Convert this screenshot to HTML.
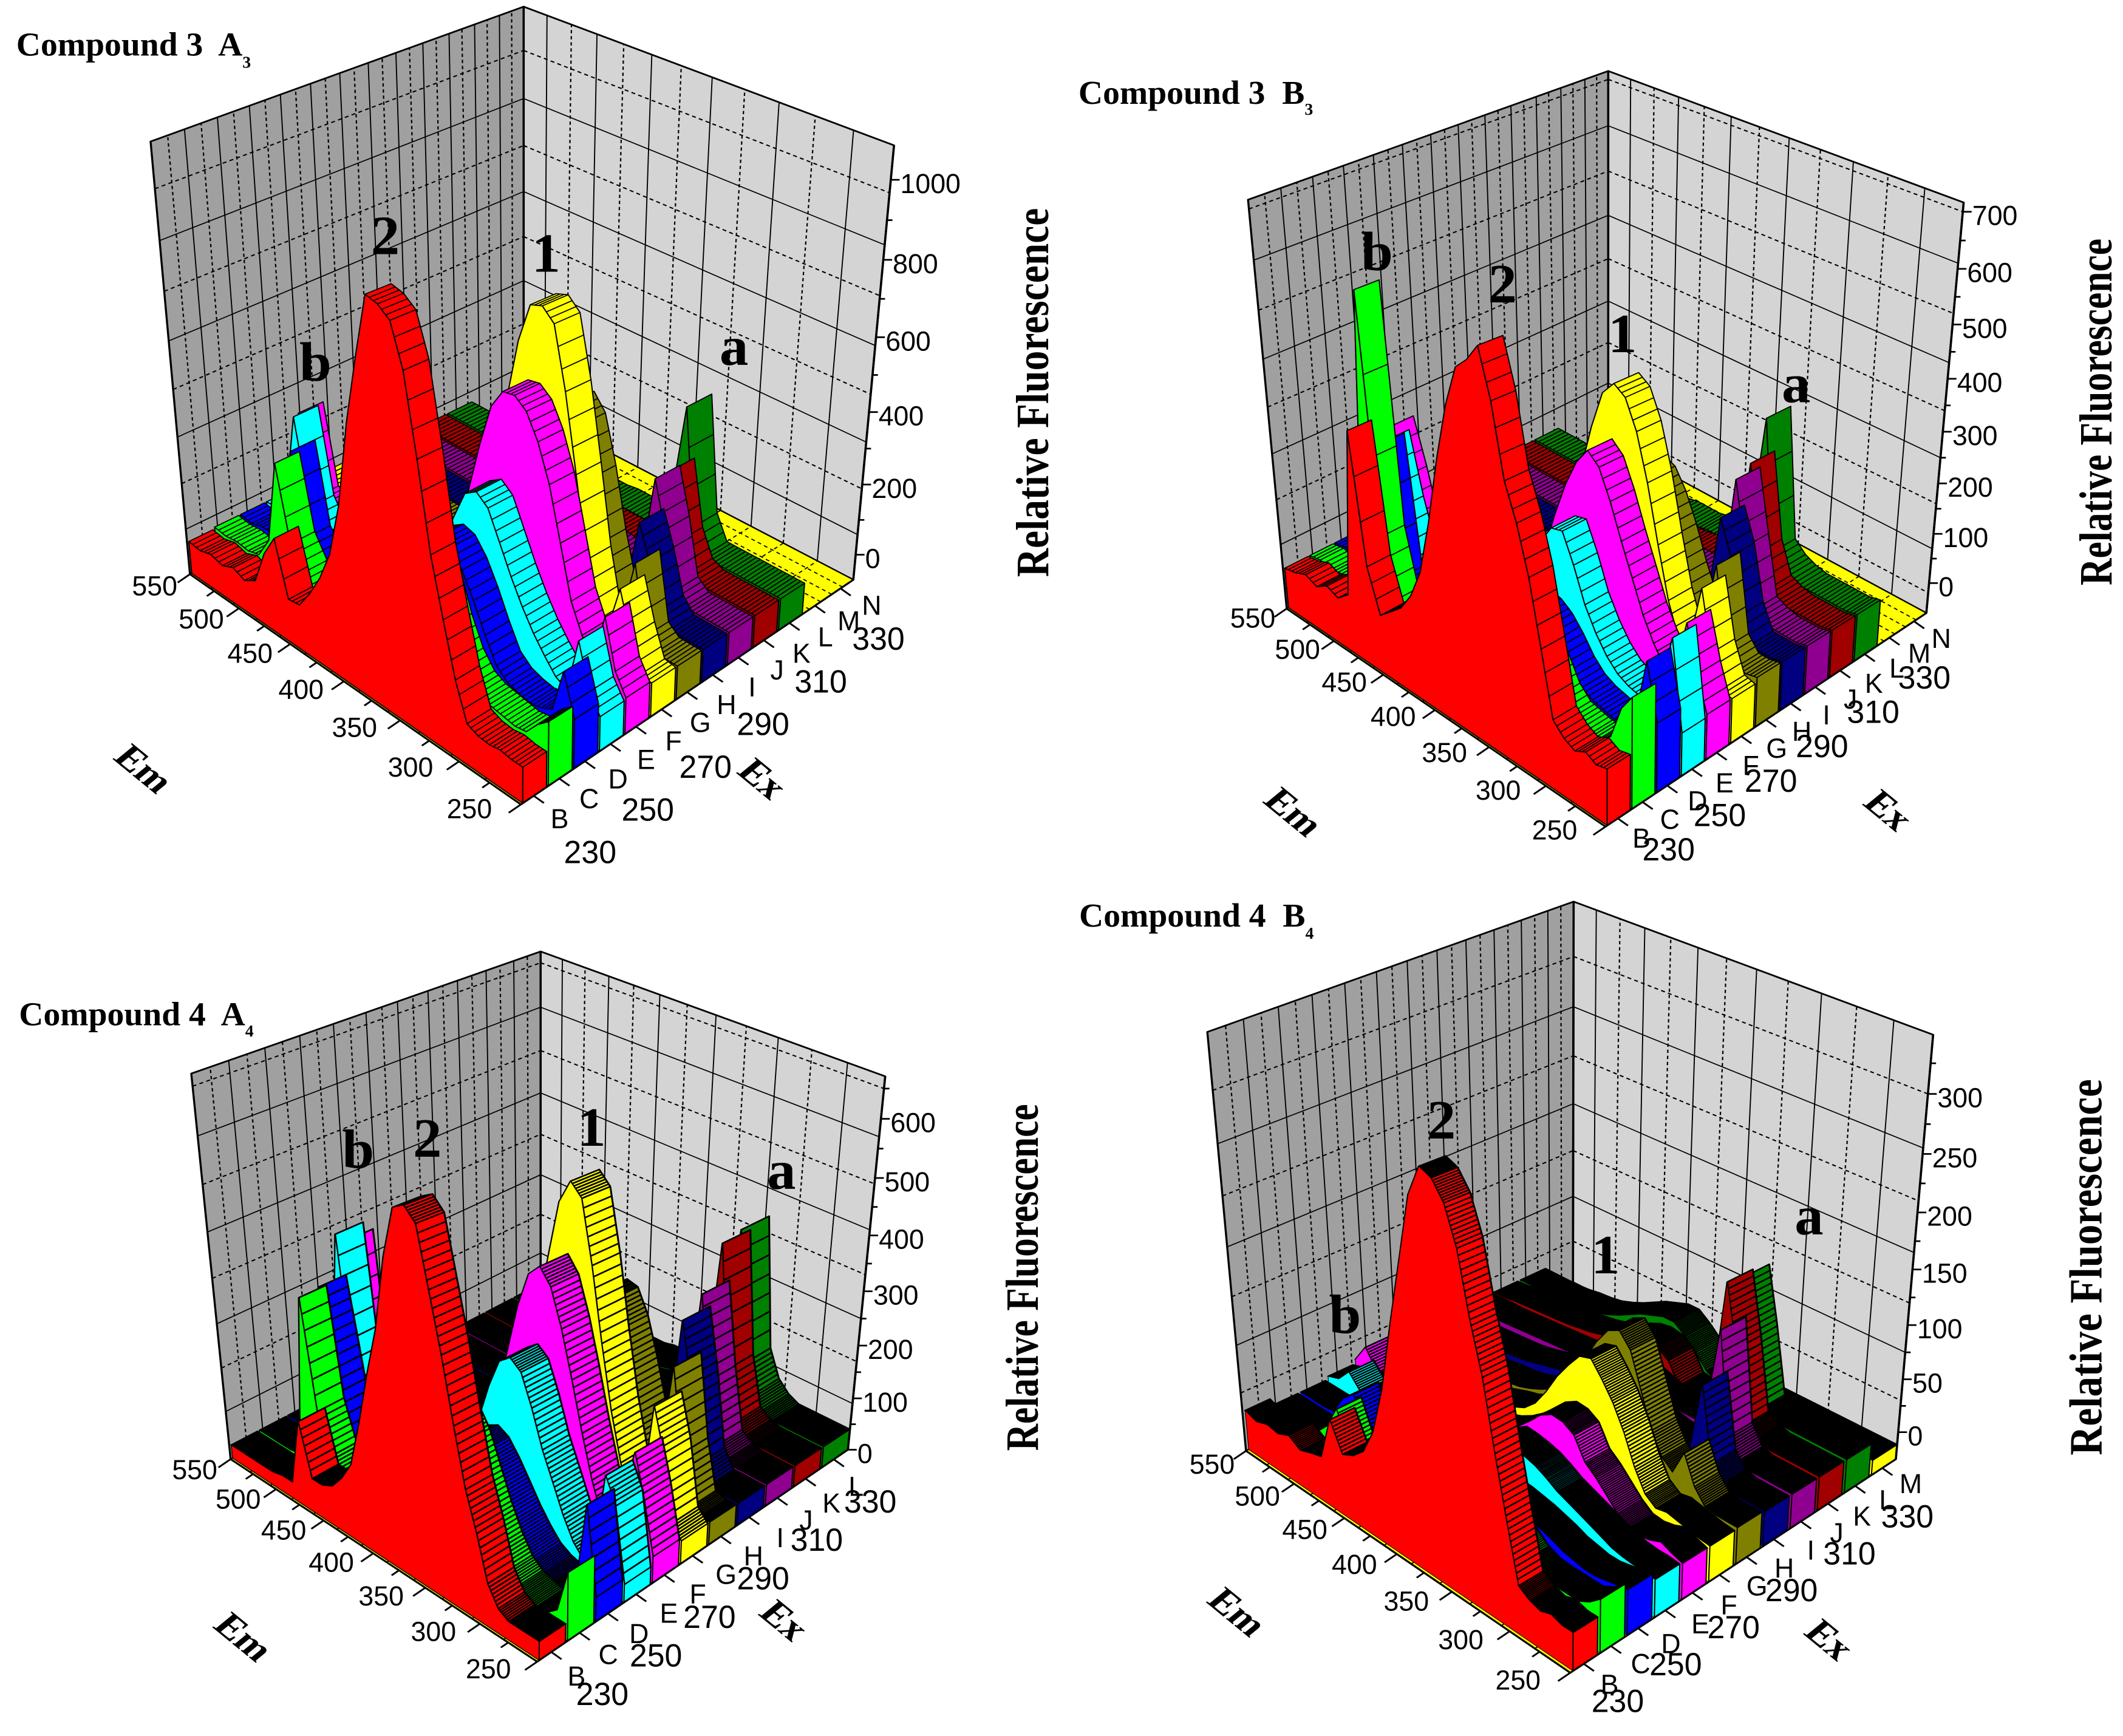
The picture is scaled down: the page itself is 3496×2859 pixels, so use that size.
<!DOCTYPE html>
<html>
<head>
<meta charset="utf-8">
<title>Fluorescence 3D spectra</title>
<style>
html,body{margin:0;padding:0;background:#fff;}
svg{display:block;}
.sans{font-family:"Liberation Sans",Arial,sans-serif;}
.ser{font-family:"Liberation Serif","Times New Roman",serif;font-weight:bold;white-space:pre;}
</style>
</head>
<body>
<svg id="figure" xmlns="http://www.w3.org/2000/svg" width="3496" height="2859" viewBox="0 0 3496 2859">
<rect width="3496" height="2859" fill="#fff"/>

<g transform="translate(0,0) scale(1.117,0.9137)">
  <g id="a3"></g>
  <text class="ser" transform="translate(24,100) scale(.83,1)" font-size="60">Compound 3  A<tspan font-size="30" dy="22">3</tspan></text>
  <text class="ser" transform="translate(1545,1040) rotate(-90)" font-size="68" textLength="665" lengthAdjust="spacingAndGlyphs">Relative Fluorescence</text>
  <text class="ser" transform="translate(208,1390) rotate(45)" font-size="62" text-anchor="middle" dominant-baseline="middle">Em</text>
  <text class="ser" transform="translate(1120,1408) rotate(45)" font-size="62" text-anchor="middle" dominant-baseline="middle">Ex</text>
  <text class="ser" transform="translate(568,458) scale(.85,1)" font-size="100" text-anchor="middle">2</text>
  <text class="ser" transform="translate(805,490) scale(.85,1)" font-size="100" text-anchor="middle">1</text>
  <text class="ser" transform="translate(465,686) scale(.85,1)" font-size="100" text-anchor="middle">b</text>
  <text class="ser" transform="translate(1082,658) scale(.85,1)" font-size="100" text-anchor="middle">a</text>
</g>

<g transform="translate(1748,0) scale(1.117,0.9137)">
  <g id="b3"></g>
  <text class="ser" transform="translate(25,187) scale(.83,1)" font-size="60">Compound 3  B<tspan font-size="30" dy="20">3</tspan></text>
  <text class="ser" transform="translate(1548,1055) rotate(-90)" font-size="68" textLength="625" lengthAdjust="spacingAndGlyphs">Relative Fluorescence</text>
  <text class="ser" transform="translate(338,1468) rotate(45)" font-size="62" text-anchor="middle" dominant-baseline="middle">Em</text>
  <text class="ser" transform="translate(1215,1465) rotate(45)" font-size="62" text-anchor="middle" dominant-baseline="middle">Ex</text>
  <text class="ser" transform="translate(650,545) scale(.85,1)" font-size="100" text-anchor="middle">2</text>
  <text class="ser" transform="translate(827,635) scale(.85,1)" font-size="100" text-anchor="middle">1</text>
  <text class="ser" transform="translate(465,487) scale(.85,1)" font-size="100" text-anchor="middle">b</text>
  <text class="ser" transform="translate(1083,725) scale(.85,1)" font-size="100" text-anchor="middle">a</text>
</g>

<g transform="translate(0,1430) scale(1.117,0.9137)">
  <g id="a4"></g>
  <text class="ser" transform="translate(28,283) scale(.83,1)" font-size="60">Compound 4  A<tspan font-size="30" dy="20">4</tspan></text>
  <text class="ser" transform="translate(1530,1050) rotate(-90)" font-size="68" textLength="625" lengthAdjust="spacingAndGlyphs">Relative Fluorescence</text>
  <text class="ser" transform="translate(355,1390) rotate(45)" font-size="62" text-anchor="middle" dominant-baseline="middle">Em</text>
  <text class="ser" transform="translate(1152,1360) rotate(45)" font-size="62" text-anchor="middle" dominant-baseline="middle">Ex</text>
  <text class="ser" transform="translate(630,520) scale(.85,1)" font-size="100" text-anchor="middle">2</text>
  <text class="ser" transform="translate(872,500) scale(.85,1)" font-size="100" text-anchor="middle">1</text>
  <text class="ser" transform="translate(528,540) scale(.85,1)" font-size="100" text-anchor="middle">b</text>
  <text class="ser" transform="translate(1152,578) scale(.85,1)" font-size="100" text-anchor="middle">a</text>
</g>

<g transform="translate(1748,1430) scale(1.117,0.9137)">
  <g id="b4"></g>
  <text class="ser" transform="translate(26,105) scale(.83,1)" font-size="60">Compound 4  B<tspan font-size="30" dy="22">4</tspan></text>
  <text class="ser" transform="translate(1533,1058) rotate(-90)" font-size="68" textLength="678" lengthAdjust="spacingAndGlyphs">Relative Fluorescence</text>
  <text class="ser" transform="translate(255,1345) rotate(45)" font-size="62" text-anchor="middle" dominant-baseline="middle">Em</text>
  <text class="ser" transform="translate(1128,1395) rotate(45)" font-size="62" text-anchor="middle" dominant-baseline="middle">Ex</text>
  <text class="ser" transform="translate(560,487) scale(.85,1)" font-size="100" text-anchor="middle">2</text>
  <text class="ser" transform="translate(802,730) scale(.85,1)" font-size="100" text-anchor="middle">1</text>
  <text class="ser" transform="translate(418,838) scale(.85,1)" font-size="100" text-anchor="middle">b</text>
  <text class="ser" transform="translate(1102,660) scale(.85,1)" font-size="100" text-anchor="middle">a</text>
</g>
</svg>

<script>
// Emission wavelengths shared by every series
const emValues = [250,260,270,280,290,300,310,320,330,340,350,360,370,380,390,400,410,420,430,440,450,460,470,480,490,500,510,520,530,540,550];

// Tick labels
const emTickLabels = [550,500,450,400,350,300,250];
const exTickLabels = [230,250,270,290,310,330];
const lettersA3 = ['B','C','D','E','F','G','H','I','J','K','L','M','N'];
const lettersB3 = ['B','C','D','E','F','G','H','I','J','K','L','M','N'];
const lettersA4 = ['B','C','D','E','F','G','H','I','J','K','L'];
const lettersB4 = ['B','C','D','E','F','G','H','I','J','K','L','M'];
const zTicksA3 = [0,200,400,600,800,1000];
const zTicksB3 = [0,100,200,300,400,500,600,700];
const zTicksA4 = [0,100,200,300,400,500,600];
const zTicksB4 = [0,50,100,150,200,250,300];

// Compound 3 A3
const a3B = [15,15,20,15,18, 30,120,250,390,600, 790,890,915,925,770, 600,380,240,160,100, 50,45,190,130,35, 15,30,15,25,15, 20];
const a3C = [85,60,25,20,25, 30,35,50,90,160, 260,340,370,340,260, 170,100,60,40,30, 25,30,60,120,320, 90,30,20,25,20, 25];
const a3D = [50,150,40,25,20, 25,35,60,120,190, 250,290,300,280,220, 150,90,55,40,30, 25,20,25,30,80, 300,100,30,30,20, 25];
const a3E = [15,60,170,30,45, 80,120,170,230,300, 370,395,375,300,220, 150,90,60,40,30, 25,20,20,25,25, 30,90,325,100,30, 25];
const a3F = [20,70,190,70,110, 180,310,440,530,590, 615,610,560,450,320, 200,120,70,45,35, 30,25,25,25,25, 25,25,30,40,265, 120];
const a3G = [15,20,100,205,90, 90,230,430,620,770, 800,790,690,530,360, 210,120,70,50,40, 35,30,30,25,25, 25,25,25,25,25, 30];
const a3H = [15,15,15,40,215, 70,100,220,370,490, 530,500,420,310,210, 130,80,55,40,35, 30,30,25,25,25, 25,25,25,25,25, 25];
const a3I = [15,15,15,15,50, 160,250,60,50,90, 110,110,100,80,60, 50,40,35,30,30, 25,25,25,25,25, 25,25,25,25,25, 25];
const a3J = [15,15,15,15,15, 40,190,310,70,40, 50,55,55,50,45, 40,35,30,30,25, 25,25,25,25,25, 25,25,25,25,25, 25];
const a3K = [15,15,15,15,15, 15,30,100,275,60, 30,35,35,35,35, 30,30,30,25,25, 25,25,25,25,25, 25,25,25,25,25, 25];
const a3L = [15,15,15,15,15, 15,15,15,80,395, 130,30,30,30,30, 30,25,25,25,25, 25,25,25,25,25, 25,25,25,25,25, 25];

// Compound 3 B3
const b3B = [35,30,40,30,40, 60,170,280,360,420, 540,620,590,570,500, 400,280,180,125,90, 70,50,130,370,50, 30,40,25,35,25, 20];
const b3C = [130,100,40,25,20, 25,30,50,90,140, 180,200,210,190,150, 110,70,45,35,30, 25,25,40,150,590, 40,30,25,20,25, 20];
const b3D = [60,155,50,25,20, 25,30,40,60,90, 115,130,135,125,100, 75,50,35,30,25, 25,25,25,25,30, 280,120,30,25,25, 20];
const b3E = [15,170,80,35,35, 40,50,70,100,140, 200,250,245,210,170, 120,80,55,40,30, 25,25,25,25,25, 30,120,240,70,25, 20];
const b3F = [20,80,160,70,60, 90,130,185,240,300, 350,370,340,290,225, 150,95,60,40,30, 25,25,25,25,25, 25,25,25,130,220, 100];
const b3G = [20,25,80,185,80, 70,130,220,320,400, 450,465,440,370,280, 190,120,75,50,35, 30,25,25,25,25, 25,25,25,25,25, 25];
const b3H = [30,25,25,50,190, 80,90,140,200,250, 285,295,280,240,190, 140,95,65,45,35, 30,25,25,25,25, 25,25,25,25,25, 25];
const b3I = [30,25,25,25,70, 170,230,70,50,60, 80,85,85,70,60, 50,40,35,30,30, 25,25,25,25,25, 25,25,25,25,25, 25];
const b3J = [30,25,25,25,30, 40,150,265,60,45, 55,55,55,50,45, 40,35,30,30,25, 25,25,25,25,25, 25,25,25,25,25, 25];
const b3K = [30,25,25,25,25, 30,40,100,260,60, 40,40,40,40,35, 35,30,30,25,25, 25,25,25,25,25, 25,25,25,25,25, 25];
const b3L = [30,25,25,25,25, 25,30,40,60,310, 100,35,35,35,35, 30,30,30,25,25, 25,25,25,25,25, 25,25,25,25,25, 25];

// Compound 4 A4
const a4B = [30,30,30,30,40, 70,140,200,290,390, 480,570,590,580,500, 380,300,210,130,95, 70,60,60,150,30, 30,25,25,25,25, 25];
const a4C = [110,40,25,25,30, 35,50,80,120,170, 220,250,260,240,200, 150,100,70,50,40, 30,30,30,60,130, 320,30,25,25,25, 25];
const a4D = [40,180,35,25,25, 30,40,60,85,115, 145,170,180,170,140, 110,75,50,35,30, 30,25,25,25,30, 170,305,40,25,25, 25];
const a4E = [30,150,190,50,30, 50,85,130,175,235, 285,300,285,235,170, 120,80,55,40,30, 30,25,25,25,25, 25,110,365,100,40, 25];
const a4F = [45,130,200,120,50, 60,115,185,265,340, 400,425,405,345,260, 175,110,70,50,40, 30,30,25,25,25, 25,25,25,30,310, 90];
const a4G = [40,60,170,240,70, 50,115,195,300,420, 520,540,500,400,290, 195,125,80,55,40, 35,30,30,25,25, 25,25,25,25,25, 25];
const a4H = [40,40,45,130,270, 100,95,150,225,290, 330,335,310,255,190, 130,90,60,45,35, 30,30,25,25,25, 25,25,25,25,25, 25];
const a4I = [40,40,40,40,70, 200,305,90,70,85, 95,95,90,80,70, 60,50,40,35,30, 30,30,25,25,25, 25,25,25,25,25, 25];
const a4J = [40,40,40,40,45, 60,170,315,90,60, 65,65,60,55,50, 45,40,35,30,30, 30,25,25,25,25, 25,25,25,25,25, 25];
const a4K = [40,40,40,40,40, 45,60,150,370,100, 50,50,50,45,45, 40,35,30,30,30, 25,25,25,25,25, 25,25,25,25,25, 25];
const a4L = [40,40,40,40,40, 40,50,70,120,360, 150,50,45,45,40, 40,35,35,30,30, 25,25,25,25,25, 25,25,25,25,25, 25];

// Compound 4 B4
const b4B = [5,5,8,5,8, 14,60,110,165,205, 255,285,300,305,280, 225,170,110,68,45, 35,30,55,15,12, 8,15,10,12,8, 12];
const b4C = [18,10,5,5,5, 5,6,10,18,28, 40,50,55,50,42, 30,20,12,8,6, 5,5,5,10,40, 18,6,5,5,5, 5];
const b4D = [12,10,8,6,6, 8,10,14,17,20, 22,24,25,24,22, 18,14,10,8,7, 6,6,6,6,8, 35,25,6,5,5, 5];
const b4E = [6,7,7,8,10, 14,18,22,26,30, 36,41,44,46,47, 40,32,24,18,14, 12,10,10,10,10, 10,10,12,25,12, 8];
const b4F = [5,8,12,8,6, 7,14,24,34,42, 60,66,67,61,50, 40,32,26,22,18, 15,13,12,11,11, 10,10,10,12,30, 12];
const b4G = [5,6,8,10,12, 10,17,35,60,80, 95,108,105,92,77, 58,42,32,27,24, 20,16,13,12,11, 10,10,10,10,10, 10];
const b4H = [6,6,6,8,20, 44,22,30,48,78, 108,120,115,100,80, 60,45,36,30,25, 21,19,18,16,15, 14,13,12,11,10, 10];
const b4I = [5,5,5,5,8, 20,85,20,22,24, 26,28,30,32,34, 34,33,32,31,30, 27,24,21,19,18, 17,16,15,14,13, 12];
const b4J = [5,5,5,5,5, 8,25,115,40,25, 25,25,25,28,32, 36,36,34,31,28, 25,24,23,22,21, 20,19,18,18,17, 16];
const b4K = [5,5,5,5,5, 5,8,15,80,135, 30,18,18,20,38, 45,47,45,40,35, 30,27,25,23,22, 21,20,19,18,16, 15];
const b4L = [5,5,5,5,5, 5,5,5,10,70, 122,40,14,20,32, 42,50,50,46,42, 36,30,25,21,19, 18,16,15,15,15, 15];
const b4M = [-12,-12,-12,-12,-12, -12,-12,-12,-12,-12, -12,-12,-12,-12,-12, -12,-12,-12,-12,-12, -12,-12,-12,-12,-12, -12,-12,-12,-12,-12, -12];

const palette = ['#ff0000','#00ff00','#0000ff','#00ffff','#ff00ff','#ffff00','#808000','#000080','#900090','#a00000','#008000','#ffff00'];
const NS = 'http://www.w3.org/2000/svg';

function make(parent, tag) {
  const el = document.createElementNS(NS, tag);
  parent.appendChild(el);
  return el;
}

function polygon(parent, pts, fill, stroke, width) {
  const el = make(parent, 'polygon');
  el.setAttribute('points', pts.map(p => p[0].toFixed(1) + ',' + p[1].toFixed(1)).join(' '));
  el.setAttribute('fill', fill);
  el.setAttribute('stroke', stroke);
  el.setAttribute('stroke-width', width);
  el.setAttribute('stroke-linejoin', 'round');
  return el;
}

function segment(parent, a, b, stroke, width, dash) {
  const el = make(parent, 'line');
  el.setAttribute('x1', a[0]);
  el.setAttribute('y1', a[1]);
  el.setAttribute('x2', b[0]);
  el.setAttribute('y2', b[1]);
  el.setAttribute('stroke', stroke);
  el.setAttribute('stroke-width', width);
  if (dash) el.setAttribute('stroke-dasharray', dash);
  return el;
}

function label(parent, txt, x, y, size) {
  const el = make(parent, 'text');
  el.setAttribute('class', 'sans');
  el.setAttribute('transform', 'translate(' + x + ',' + y + ') scale(.8,1)');
  el.setAttribute('font-size', size);
  el.textContent = txt;
  return el;
}

function foreshorten(f, p) {
  return f / (1 + p * (1 - f));
}

function drawPanel(c) {
  const root = document.getElementById(c.id);
  const N = c.letters.length;
  const mix = (a, b, f) => [a[0] + (b[0] - a[0]) * f, a[1] + (b[1] - a[1]) * f];
  const bil = (q, u, v) => mix(mix(q.F, q.R, u), mix(q.L, q.B, u), v);
  // axis functions
  const xAxis = (i, f) => (i + f) / N;
  const yAxis = em => (em - 250) / 300;
  const zAxis = val => {
    const z = (val - c.zMin) / (c.zMax - c.zMin);
    return z / (1 + 0.1 * (1 - z));
  };
  const P = (u, v, t) => mix(bil(c.floor, u, v), bil(c.top, u, v), t);

  // Walls and floor
  const wallL = polygon(root, [P(0,1,0),P(1,1,0),P(1,1,1),P(0,1,1)], '#a0a0a0', '#000', 3);
  
  
  const wallR = polygon(root, [P(1,1,0),P(1,0,0),P(1,0,1),P(1,1,1)], '#d4d4d4', '#000', 3);
  
  
  const floorEl = polygon(root, [P(0,0,0),P(1,0,0),P(1,1,0),P(0,1,0)], '#ffff00', '#000', 2);
  
  

  // Grid: solid and dashed lines alternate on every wall
  const grid = make(root, 'g');
  
  
  const DASH = '6 5';
  for (let k = 1; k < 2 * N; k++) {
    const u = 1 - foreshorten(k / (2 * N), 0.2);
    const dash = k % 2 === 1 ? DASH : null;
    segment(grid, P(u,1,0), P(u,1,1), '#000', dash ? 2 : 1.7, dash);
    segment(grid, P(u,0,0), P(u,1,0), '#000', 1.8, DASH);
  }
  for (let k = 1; k < 12; k++) {
    const v = 1 - foreshorten(k / 12, 0.35);
    const dash = k % 2 === 0 ? DASH : null;
    segment(grid, P(1,v,0), P(1,v,1), '#000', dash ? 2 : 1.7, dash);
    segment(grid, P(0,v,0), P(1,v,0), '#000', 1.8, DASH);
  }
  let level = 0;
  for (let val = c.gridStart; val > c.zMin + c.gridStep * 0.3; val -= c.gridStep) {
    const t = zAxis(val);
    const dash = level % 2 === 0 ? DASH : null;
    segment(grid, P(0,1,t), P(1,1,t), '#000', dash ? 2.2 : 1.8, dash);
    segment(grid, P(1,1,t), P(1,0,t), '#000', dash ? 2.2 : 1.8, dash);
    level++;
  }
  segment(grid, P(1,1,0), P(1,1,1), '#000', 3.2);

  // Series ribbons, far to near
  for (let i = c.series.length - 1; i >= 0; i--) {
    const vals = c.series[i];
    const color = palette[i];
    const u0 = xAxis(i, c.gap);
    const u1 = xAxis(i, 1);
    const g = make(root, 'g');
    
    
    for (let j = vals.length - 2; j >= 0; j--) {
      for (let s = c.stripes - 1; s >= 0; s--) {
        const f0 = s / c.stripes;
        const f1 = (s + 1) / c.stripes;
        const emA = emValues[j] + (emValues[j + 1] - emValues[j]) * f0;
        const emB = emValues[j] + (emValues[j + 1] - emValues[j]) * f1;
        const valA = vals[j] + (vals[j + 1] - vals[j]) * f0;
        const valB = vals[j] + (vals[j + 1] - vals[j]) * f1;
        const va = yAxis(emA), vb = yAxis(emB), ta = zAxis(valA), tb = zAxis(valB);
        const q = polygon(g, [P(u0,va,ta),P(u1,va,ta),P(u1,vb,tb),P(u0,vb,tb)], color, '#000', c.lineW);
        
        
      }
    }
    const facePts = [P(u0,1,0), P(u0,0,0)];
    vals.forEach((val, j) => facePts.push(P(u0, yAxis(emValues[j]), zAxis(val))));
    const face = polygon(g, facePts, color, '#000', c.faceW);
    
    
    const t0 = zAxis(vals[0]);
    const end = polygon(g, [P(u0,0,0),P(u1,0,0),P(u1,0,t0),P(u0,0,t0)], color, '#000', 1.8);
    
    
  }

  // Axes
  const axes = make(root, 'g');
  
  
  segment(axes, P(0,1,0), P(0,0,0), '#000', 3.2);
  segment(axes, P(0,0,0), P(1,0,0), '#000', 3.2);
  segment(axes, P(1,0,0), P(1,0,1), '#000', 3.2);

  // Em axis ticks and labels
  for (let em = 250; em <= 550; em += 25) {
    const a = P(0, 1 - foreshorten((550 - em) / 300, 0.15), 0);
    const len = em % 50 === 0 ? 1 : 0.6;
    segment(axes, a, [a[0] - 18 * len, a[1] + 15 * len], '#000', 3);
  }
  emTickLabels.forEach((em, k) => {
    const f = foreshorten(k / (emTickLabels.length - 1), 0.15);
    const p = mix(c.emFirst, c.emLast, f);
    const t = label(axes, String(em), p[0], p[1] + 18, 50);
    t.setAttribute('text-anchor', 'middle');
    
    
  });

  // Ex axis ticks and labels
  c.letters.forEach((name, i) => {
    const a = P(xAxis(i, 0.5), 0, 0);
    segment(axes, a, [a[0] + 15, a[1] + 13], '#000', 3);
    const f = 1 - foreshorten(1 - i / (c.letters.length - 1), 0.15);
    const p = mix(c.letterFirst, c.letterLast, f);
    const t = label(axes, name, p[0], p[1] + 18, 50);
    t.setAttribute('text-anchor', 'middle');
    
    
  });
  exTickLabels.forEach((ex, k) => {
    const p = mix(c.exFirst, c.exLast, k / (exTickLabels.length - 1));
    const t = label(axes, String(ex), p[0], p[1] + 21, 58);
    t.setAttribute('text-anchor', 'middle');
    
    
  });

  // Z axis ticks and labels
  const step = (c.zTicks[1] - c.zTicks[0]) / 2;
  for (let val = c.zTicks[0]; val < c.zMax; val += step) {
    const a = P(1, 0, zAxis(val));
    const major = c.zTicks.indexOf(val) >= 0;
    segment(axes, a, [a[0] + (major ? 13 : 8), a[1]], '#000', 3);
  }
  c.zTicks.forEach(val => {
    const a = P(1, 0, zAxis(val));
    const t = label(axes, String(val), a[0] + 14, a[1] + 24, 50);
    
    
  });
}

drawPanel({
  id:'a3', letters:lettersA3, zTicks:zTicksA3, zMin:-73, zMax:1084, gridStart:968, gridStep:130, stripes:3, lineW:1.8, faceW:1.8, gap:0.07,
  series:[a3B,a3C,a3D,a3E,a3F,a3G,a3H,a3I,a3J,a3K,a3L],
  floor:{F:[768,1450],L:[280,1035],R:[1258,1045],B:[772,735]},
  top:{F:[768,515],L:[222,255],R:[1318,262],B:[772,12]},
  emFirst:[228,1055], emLast:[692,1457], letterFirst:[825,1475], letterLast:[1285,1090], exFirst:[870,1535], exLast:[1295,1150]
});
drawPanel({
  id:'b3', letters:lettersB3, zTicks:zTicksB3, zMin:-62, zMax:716, gridStart:700, gridStep:90, stripes:3, lineW:1.8, faceW:1.8, gap:0.07,
  series:[b3B,b3C,b3D,b3E,b3F,b3G,b3H,b3I,b3J,b3K,b3L],
  floor:{F:[802,1490],L:[332,1097],R:[1275,1105],B:[806,795]},
  top:{F:[800,600],L:[275,360],R:[1330,365],B:[806,128]},
  emFirst:[282,1113], emLast:[727,1495], letterFirst:[855,1510], letterLast:[1297,1150], exFirst:[895,1530], exLast:[1272,1220]
});
drawPanel({
  id:'a4', letters:lettersA4, zTicks:zTicksA4, zMin:0, zMax:670, gridStart:650, gridStep:80, stripes:7, lineW:2.7, faceW:1.4, gap:0.07,
  series:[a4B,a4C,a4D,a4E,a4F,a4G,a4H,a4I,a4J,a4K,a4L],
  floor:{F:[792,1430],L:[340,1065],R:[1250,1048],B:[797,770]},
  top:{F:[793,600],L:[282,370],R:[1305,375],B:[797,150]},
  emFirst:[287,1083], emLast:[720,1442], letterFirst:[850,1455], letterLast:[1262,1113], exFirst:[888,1487], exLast:[1283,1140]
});
drawPanel({
  id:'b4', letters:lettersB4, zTicks:zTicksB4, zMin:-26, zMax:348, gridStart:300, gridStep:45, stripes:10, lineW:2.6, faceW:1, gap:0.1,
  series:[b4B,b4C,b4D,b4E,b4F,b4G,b4H,b4I,b4J,b4K,b4L,b4M],
  floor:{F:[750,1450],L:[272,1050],R:[1230,1065],B:[754,770]},
  top:{F:[752,540],L:[215,295],R:[1285,300],B:[755,60]},
  emFirst:[222,1073], emLast:[673,1462], letterFirst:[808,1470], letterLast:[1252,1108], exFirst:[820,1500], exLast:[1247,1167]
});
</script>
</body>
</html>
